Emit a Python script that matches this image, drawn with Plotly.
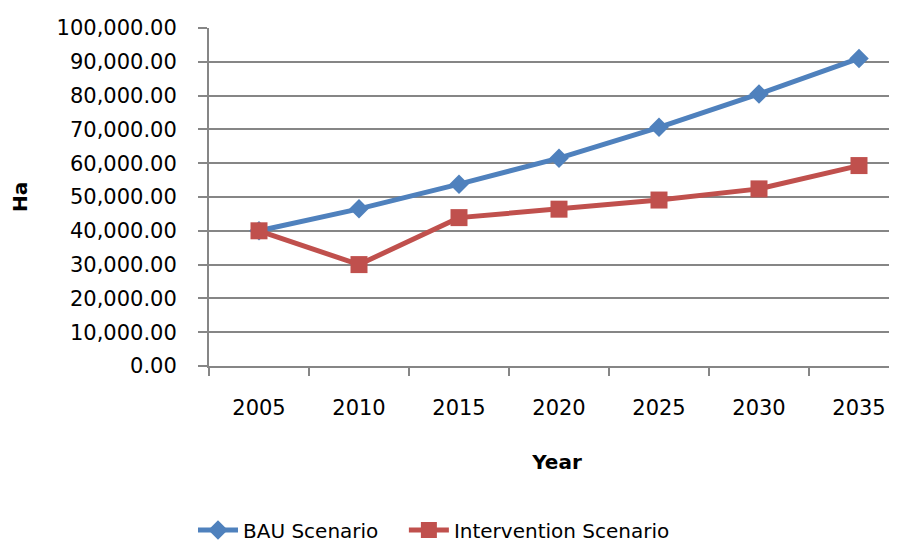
import plotly.graph_objects as go

years = ["2005", "2010", "2015", "2020", "2025", "2030", "2035"]
bau = [40000, 46500, 53800, 61500, 70600, 80500, 91000]
intervention = [40000, 30000, 43900, 46400, 49100, 52400, 59300]

FONT = "DejaVu Sans"
GRID = "#868686"

fig = go.Figure()
fig.add_trace(go.Scatter(x=years, y=bau, name="BAU Scenario", mode="lines+markers",
                         line=dict(color="#4F81BD", width=5),
                         marker=dict(symbol="diamond", size=15, color="#4F81BD"),
                         legend="legend", showlegend=True))
fig.add_trace(go.Scatter(x=years, y=intervention, name="Intervention Scenario", mode="lines+markers",
                         line=dict(color="#C0504D", width=5),
                         marker=dict(symbol="square", size=17, color="#C0504D"),
                         legend="legend2", showlegend=True))

# the page adds an 8px body margin, so the figure is laid out 8px up/left
fig.update_layout(
    width=897, height=542, showlegend=True,
    margin=dict(l=201, r=0, t=20, b=184),
    plot_bgcolor="white", paper_bgcolor="white",
    font=dict(family=FONT, size=20, color="black"),
    legend=dict(orientation="h", x=-0.023, xanchor="left", y=-0.485, yanchor="middle",
                font=dict(size=20), itemwidth=40),
    legend2=dict(orientation="h", x=0.28, xanchor="left", y=-0.485, yanchor="middle",
                 font=dict(size=20), itemwidth=40),
)
fig.update_xaxes(type="category", range=[-0.5, 6.46], tickson="boundaries", automargin=False,
                 showline=True, linecolor=GRID, linewidth=2, ticks="outside",
                 ticklen=8, tickcolor=GRID, tickwidth=2, showgrid=False,
                 ticklabelstandoff=22, tickfont=dict(size=21),
                 title=dict(text="<b>Year</b>", standoff=36, font=dict(size=20)))
fig.update_yaxes(range=[0, 100000], dtick=10000, tickformat=",.2f", automargin=False,
                 showline=True, linecolor=GRID, linewidth=2, ticks="outside",
                 ticklen=9, tickcolor=GRID, tickwidth=2,
                 showgrid=True, gridcolor=GRID, gridwidth=2, zeroline=False,
                 ticklabelstandoff=17, tickfont=dict(size=21),
                 title=dict(text="<b>Ha</b>", standoff=34, font=dict(size=20)))

fig.write_html("out.html")
